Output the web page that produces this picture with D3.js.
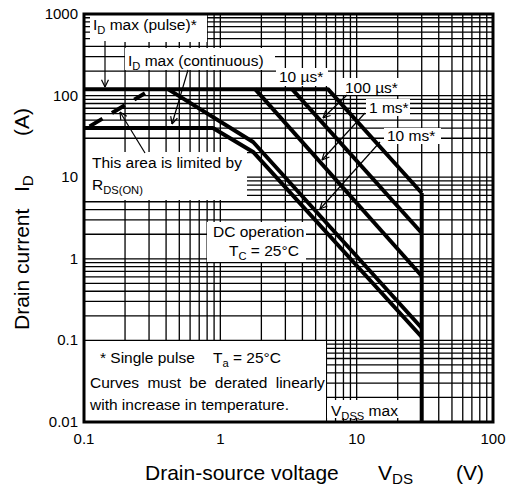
<!DOCTYPE html>
<html><head><meta charset="utf-8">
<script src="https://cdn.jsdelivr.net/npm/d3@7/dist/d3.min.js"></script>
<style>html,body{margin:0;padding:0;background:#fff}svg{display:block}text{font-family:"Liberation Sans",Arial,sans-serif;fill:#000}</style>
</head><body>
<script>
// ---- data ----
const xTickVals = [0.1, 1, 10, 100];
const xTickLabels = ["0.1", "1", "10", "100"];
const yTickVals = [0.01, 0.1, 1, 10, 100, 1000];
const yTickLabels = ["0.01", "0.1", "1", "10", "100", "1000"];
const us10V = [0.1, 6.16, 30];    const us10I = [120, 120, 6.4];
const us100V = [3.36, 30];        const us100I = [120, 2.07];
const ms1V = [1.80, 30];          const ms1I = [120, 0.615];
const ms10V = [0.413, 1.74, 30];  const ms10I = [120, 27, 0.142];
const dcV = [0.1, 0.883, 1.74, 30]; const dcI = [40, 40, 20.4, 0.110];
const vdssV = [30, 30];           const vdssI = [6.4, 0.01];
const rdsV = [0.11, 0.28];        const rdsI = [42, 107];

const W = 507, H = 493;
const m = {l: 84, t: 14, r: 14, b: 71};
const svg = d3.select("body").append("svg").attr("width", W).attr("height", H);
const x = d3.scaleLog().domain([0.1, 100]).range([m.l, W - m.r]);
const y = d3.scaleLog().domain([0.01, 1000]).range([H - m.b, m.t]);

// grid
const gx = [], gy = [];
for (let d = 0.1; d < 100; d *= 10) for (let k = 1; k < 10; k++) gx.push(+(d * k).toPrecision(3));
for (let d = 0.01; d < 1000; d *= 10) for (let k = 1; k < 10; k++) gy.push(+(d * k).toPrecision(3));
const grid = svg.append("g").attr("stroke", "#000").attr("stroke-width", 1.3);
grid.selectAll("line.v").data(gx).join("line").attr("x1", d => x(d)).attr("x2", d => x(d)).attr("y1", y(1000)).attr("y2", y(0.01));
grid.selectAll("line.h").data(gy).join("line").attr("y1", d => y(d)).attr("y2", d => y(d)).attr("x1", x(0.1)).attr("x2", x(100));

// white label boxes
const boxes = [
  [90, 15, 117, 27], [125, 48, 150, 22], [276, 68, 52, 18], [342, 78, 60, 17],
  [366, 99, 44, 17], [384, 128, 57, 16], [84, 152, 163, 48], [207, 222, 99, 40],
  [84, 341, 242, 81], [327, 400, 95, 18]
];
svg.append("g").selectAll("rect").data(boxes).join("rect")
  .attr("x", d => d[0]).attr("y", d => d[1]).attr("width", d => d[2]).attr("height", d => d[3]).attr("fill", "#fff");

// curves
const line = d3.line().x(d => x(d[0])).y(d => y(d[1]));
const zip = (a, b) => a.map((v, i) => [v, b[i]]);
const curves = [[us10V, us10I], [us100V, us100I], [ms1V, ms1I], [ms10V, ms10I], [dcV, dcI], [vdssV, vdssI]];
svg.append("g").selectAll("path").data(curves).join("path")
  .attr("d", d => line(zip(d[0], d[1]))).attr("fill", "none").attr("stroke", "#000")
  .attr("stroke-width", 4).attr("stroke-linejoin", "round");
svg.append("path").attr("d", line(zip(rdsV, rdsI))).attr("fill", "none").attr("stroke", "#000")
  .attr("stroke-width", 4).attr("stroke-dasharray", "15,11");

// arrows
const arrows = [
  [105, 41, 105, 87], [188, 70, 172, 124], [145, 153, 120, 112],
  [347, 95, 323, 118], [365, 113, 322, 160], [380, 142, 320, 209]
];
const ag = svg.append("g").attr("stroke", "#000").attr("stroke-width", 1.2).attr("fill", "none");
arrows.forEach(a => {
  ag.append("line").attr("x1", a[0]).attr("y1", a[1]).attr("x2", a[2]).attr("y2", a[3]);
  const ang = Math.atan2(a[3] - a[1], a[2] - a[0]);
  [-0.45, 0.45].forEach(s => {
    ag.append("line").attr("x1", a[2]).attr("y1", a[3])
      .attr("x2", a[2] - 8 * Math.cos(ang + s)).attr("y2", a[3] - 8 * Math.sin(ang + s));
  });
});

// rich text helper: parts = [[text, isSub], ...]
function rich(px, py, parts, size, extra) {
  const t = svg.append("text").attr("x", px).attr("y", py).attr("font-size", size);
  if (extra) Object.entries(extra).forEach(([k, v]) => t.attr(k, v));
  let sub = false;
  parts.forEach(p => {
    const ts = t.append("tspan").text(p[0]);
    if (p[1] && !sub) { ts.attr("dy", 4).attr("font-size", size * 0.72); sub = true; }
    else if (p[1]) { ts.attr("font-size", size * 0.72); }
    else if (!p[1] && sub) { ts.attr("dy", -4); sub = false; }
  });
  return t;
}
const fs = 15.5;
rich(93, 30, [["I"], ["D", 1], [" max (pulse)*"]], fs);
rich(128, 66, [["I"], ["D", 1], [" max (continuous)"]], fs);
rich(279, 82, [["10 µs*"]], fs);
rich(345, 93, [["100 µs*"]], fs);
rich(369, 113, [["1 ms*"]], fs);
rich(387, 141, [["10 ms*"]], fs);
rich(92, 168, [["This area is limited by"]], fs);
rich(92, 190, [["R"], ["DS(ON)", 1]], fs);
rich(213, 237, [["DC operation"]], fs);
rich(229, 256, [["T"], ["C", 1], [" = 25°C"]], fs);
rich(100, 363, [["* Single pulse"]], fs);
rich(213, 363, [["T"], ["a", 1], [" = 25°C"]], fs);
rich(90, 388, [["Curves must be derated linearly"]], fs, {"word-spacing": 4});
rich(90, 410, [["with increase in temperature."]], fs);
rich(331, 416, [["V"], ["DSS", 1], [" max"]], fs);

// border
svg.append("rect").attr("x", x(0.1)).attr("y", y(1000)).attr("width", x(100) - x(0.1)).attr("height", y(0.01) - y(1000))
  .attr("fill", "none").attr("stroke", "#000").attr("stroke-width", 3);

// tick labels
svg.append("g").selectAll("text").data(yTickVals).join("text")
  .attr("x", m.l - 6).attr("y", d => y(d) + 5).attr("text-anchor", "end").attr("font-size", 15)
  .text((d, i) => yTickLabels[i]);
svg.append("g").selectAll("text").data(xTickVals).join("text")
  .attr("x", d => x(d)).attr("y", H - m.b + 22).attr("text-anchor", "middle").attr("font-size", 15)
  .text((d, i) => xTickLabels[i]);

// axis titles
rich(145, 480, [["Drain-source voltage"]], 21);
rich(378, 480, [["V"], ["DS", 1]], 21);
rich(456, 480, [["(V)"]], 21);
const yt = svg.append("g").attr("transform", "translate(29,0) rotate(-90)");
function richR(px, parts, size) {
  const t = yt.append("text").attr("x", px).attr("y", 0).attr("font-size", size);
  let sub = false;
  parts.forEach(p => {
    const ts = t.append("tspan").text(p[0]);
    if (p[1]) { ts.attr("dy", 4).attr("font-size", size * 0.72); sub = true; }
    else if (sub) { ts.attr("dy", -4); sub = false; }
  });
}
richR(-330, [["Drain current"]], 21);
richR(-192, [["I"], ["D", 1]], 21);
richR(-136, [["(A)"]], 21);
</script>
</body></html>
